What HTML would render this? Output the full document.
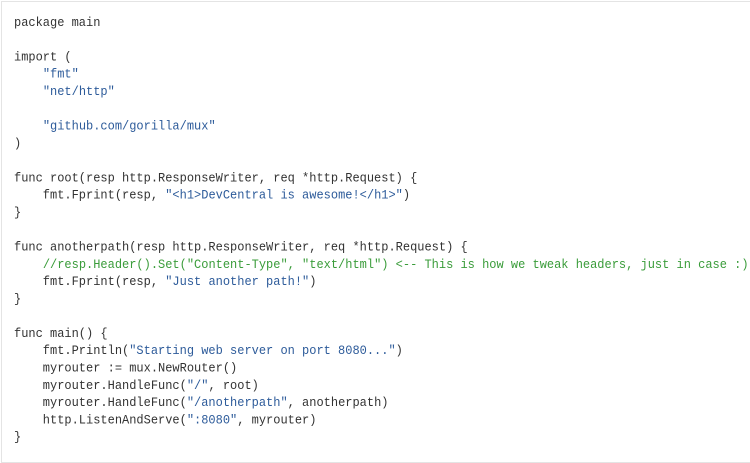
<!DOCTYPE html>
<html><head><style>
html,body{margin:0;padding:0;background:#fff;width:750px;height:446px;overflow:hidden}
.box{position:absolute;left:1px;top:1px;width:760px;height:460px;border:1px solid #e4e4e4;background:#fff}
pre{position:absolute;left:14px;top:14px;margin:0;font-family:"Liberation Mono",monospace;font-size:12px;line-height:16px;color:#333;transform:scaleY(1.08);transform-origin:0 0}
.s{color:#2d5b9a}.c{color:#3a9c3a}
</style></head><body>
<div class="box"></div>
<pre>package main

import (
    <span class="s">"fmt"</span>
    <span class="s">"net/http"</span>

    <span class="s">"github.com/gorilla/mux"</span>
)

func root(resp http.ResponseWriter, req *http.Request) {
    fmt.Fprint(resp, <span class="s">"&lt;h1&gt;DevCentral is awesome!&lt;/h1&gt;"</span>)
}

func anotherpath(resp http.ResponseWriter, req *http.Request) {
    <span class="c">//resp.Header().Set("Content-Type", "text/html") &lt;-- This is how we tweak headers, just in case :)</span>
    fmt.Fprint(resp, <span class="s">"Just another path!"</span>)
}

func main() {
    fmt.Println(<span class="s">"Starting web server on port 8080..."</span>)
    myrouter := mux.NewRouter()
    myrouter.HandleFunc(<span class="s">"/"</span>, root)
    myrouter.HandleFunc(<span class="s">"/anotherpath"</span>, anotherpath)
    http.ListenAndServe(<span class="s">":8080"</span>, myrouter)
}</pre>
</body></html>
